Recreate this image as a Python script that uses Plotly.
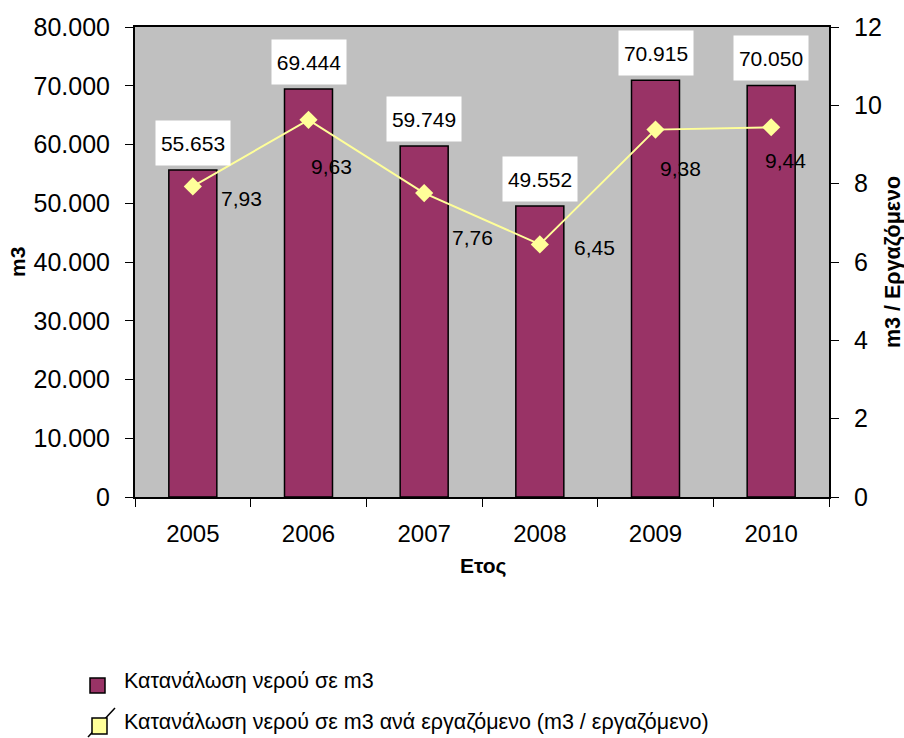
import plotly.graph_objects as go

years = [2005, 2006, 2007, 2008, 2009, 2010]
year_labels = ["2005", "2006", "2007", "2008", "2009", "2010"]
consumption = [55653, 69444, 59749, 49552, 70915, 70050]
per_employee = [7.93, 9.63, 7.76, 6.45, 9.38, 9.44]
bar_labels = ["55.653", "69.444", "59.749", "49.552", "70.915", "70.050"]
line_labels = ["7,93", "9,63", "7,76", "6,45", "9,38", "9,44"]
left_ticks = [0, 10000, 20000, 30000, 40000, 50000, 60000, 70000, 80000]
left_ticktext = ["0", "10.000", "20.000", "30.000", "40.000", "50.000", "60.000", "70.000", "80.000"]
right_ticks = [0, 2, 4, 6, 8, 10, 12]
series_names = ["Κατανάλωση νερού σε m3",
                "Κατανάλωση νερού σε m3 ανά εργαζόμενο (m3 / εργαζόμενο)"]

# label offsets (px) for per-employee labels, mimicking the original placement
line_dx = [49, 23, 48, 55, 25, 14]
line_dy = [-12, -47, -44, -3, -39, -33]

FONT = "Arial, Liberation Sans, sans-serif"
BAR_COLOR = "#993366"
LINE_COLOR = "#FFFF99"

# plot area in pixels: left 135, right 829, top 27, bottom 497
L, R, T, B = 135, 829, 27, 497
def px(xp):
    return (xp - L) / (R - L)
def py(yp):
    return (B - yp) / (B - T)

fig = go.Figure()
fig.add_trace(go.Bar(
    x=years, y=consumption, name=series_names[0],
    marker=dict(color=BAR_COLOR, line=dict(color="black", width=1.5)),
    yaxis="y",
))
fig.add_trace(go.Scatter(
    x=years, y=per_employee, name=series_names[1],
    mode="lines+markers",
    line=dict(color=LINE_COLOR, width=2),
    marker=dict(symbol="diamond", size=14, color=LINE_COLOR),
    yaxis="y2",
))

annotations = []
for x, v, t in zip(years, consumption, bar_labels):
    annotations.append(dict(
        x=x, y=v, xref="x", yref="y", text=t, showarrow=False,
        yanchor="bottom", yshift=4, bgcolor="white",
        width=70, height=40, borderpad=2,
        font=dict(family=FONT, size=21, color="black"),
    ))
for x, v, t, dx, dy in zip(years, per_employee, line_labels, line_dx, line_dy):
    annotations.append(dict(
        x=x, y=v, xref="x", yref="y2", text=t, showarrow=False,
        xshift=dx, yshift=dy,
        font=dict(family=FONT, size=21, color="black"),
    ))

# axis titles
annotations += [
    dict(text="<b>m3</b>", x=px(17), y=py(262), xref="paper", yref="paper",
         xanchor="center", yanchor="middle",
         textangle=-90, showarrow=False, font=dict(family=FONT, size=21, color="black")),
    dict(text="<b>m3 / Εργαζόμενο</b>", x=px(893), y=py(262), xref="paper", yref="paper",
         xanchor="center", yanchor="middle",
         textangle=-90, showarrow=False, font=dict(family=FONT, size=21.5, color="black")),
    dict(text="<b>Ετος</b>", x=px(483), y=py(566), xref="paper", yref="paper",
         xanchor="center", yanchor="middle",
         showarrow=False, font=dict(family=FONT, size=21, color="black")),
]

# manual legend (text)
annotations += [
    dict(text=series_names[0], x=px(122), y=py(681), xref="paper", yref="paper",
         xanchor="left", yanchor="middle", showarrow=False,
         font=dict(family=FONT, size=21.5, color="black")),
    dict(text=series_names[1], x=px(122), y=py(722), xref="paper", yref="paper",
         xanchor="left", yanchor="middle", showarrow=False,
         font=dict(family=FONT, size=21.5, color="black")),
]

# manual legend (symbols)
shapes = [
    dict(type="rect", xref="paper", yref="paper",
         x0=px(90), x1=px(105), y0=py(693), y1=py(678),
         fillcolor=BAR_COLOR, line=dict(color="black", width=1.5)),
    dict(type="line", xref="paper", yref="paper",
         x0=px(88), y0=py(737), x1=px(115), y1=py(708),
         line=dict(color="black", width=1.5)),
    dict(type="rect", xref="paper", yref="paper",
         x0=px(92), x1=px(107), y0=py(734), y1=py(718),
         fillcolor=LINE_COLOR, line=dict(color="black", width=1.5)),
]

boundaries = [y - 0.5 for y in years] + [years[-1] + 0.5]

fig.update_layout(
    width=904, height=738,
    margin=dict(l=L, r=904 - R, t=T, b=738 - B),
    paper_bgcolor="white",
    plot_bgcolor="#C0C0C0",
    font=dict(family=FONT, color="black"),
    bargap=0.585,
    showlegend=False,
    xaxis=dict(
        type="linear", range=[years[0] - 0.5, years[-1] + 0.5],
        tickvals=years, ticktext=year_labels, ticks="",
        minor=dict(tickvals=boundaries, ticks="outside", ticklen=8,
                   tickcolor="black", showgrid=False),
        showgrid=False, showline=True, linecolor="black", linewidth=2,
        mirror=True, automargin=False, ticklabelstandoff=14,
        tickfont=dict(size=24), zeroline=False, fixedrange=True,
    ),
    yaxis=dict(
        range=[0, 80000], tickvals=left_ticks, ticktext=left_ticktext,
        showgrid=False, showline=True, linecolor="black", linewidth=2,
        ticks="outside", ticklen=8, tickcolor="black", automargin=False,
        ticklabelstandoff=10, fixedrange=True,
        tickfont=dict(size=25), zeroline=False,
    ),
    yaxis2=dict(
        range=[0, 12], tickvals=right_ticks, overlaying="y", side="right",
        showgrid=False, showline=True, linecolor="black", linewidth=2,
        ticks="outside", ticklen=8, tickcolor="black", automargin=False,
        ticklabelstandoff=10, fixedrange=True,
        tickfont=dict(size=25), zeroline=False,
    ),
    annotations=annotations,
    shapes=shapes,
)

fig.write_html("out.html", config={"displayModeBar": False},
               post_script="document.body.style.margin='0';")
